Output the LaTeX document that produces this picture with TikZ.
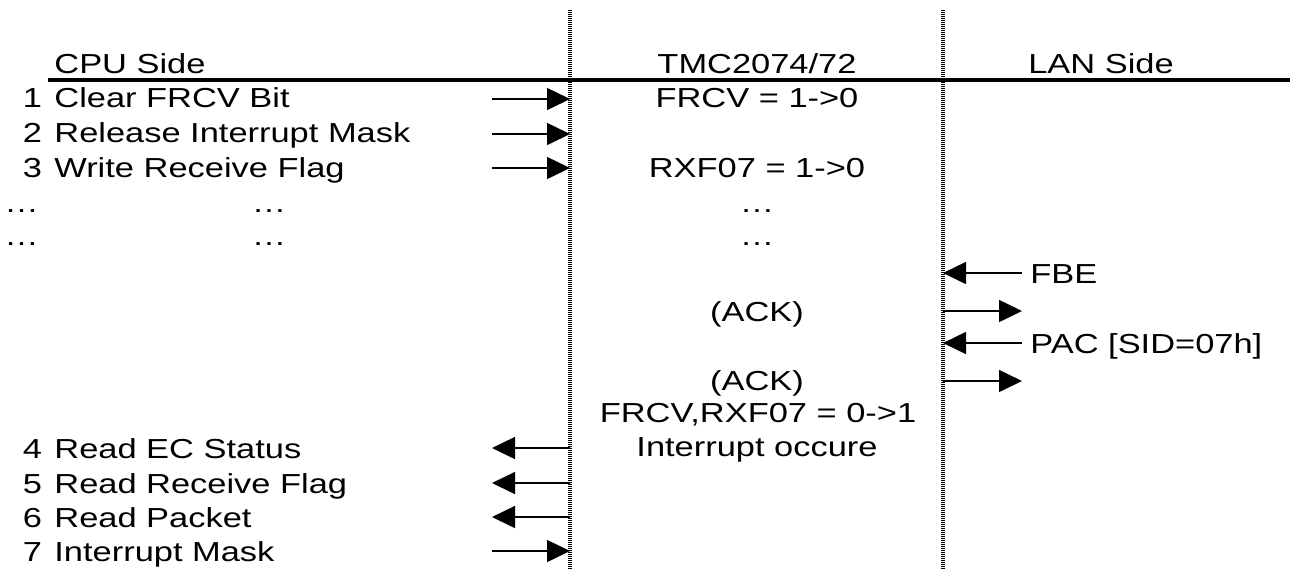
\documentclass[tikz,border=0pt]{standalone}
\usepackage{fontspec}
\setmainfont{Liberation Sans}[FakeStretch=1.252]
\usetikzlibrary{arrows.meta}
\begin{document}
\begin{tikzpicture}[x=0.5pt,y=-0.5pt,
  txt/.style={inner sep=0pt,font=\fontsize{13.75}{16}\selectfont},
  lt/.style={txt,anchor=base west},
  ct/.style={txt,anchor=base},
  life/.style={line width=2pt,dash pattern=on 0.5pt off 0.5pt},
  rule/.style={line width=1.7pt},
  msg/.style={line width=0.75pt,-{Triangle[length=11.5pt,width=11pt]}}]
\useasboundingbox (0,0) rectangle (1295,570);
% lifelines
\coordinate (cpuTop) at (570,10);
\coordinate (cpuBot) at (570,570);
\coordinate (lanTop) at (943,10);
\coordinate (lanBot) at (943,570);
\draw[life] (cpuTop) -- (cpuBot);
\draw[life] (lanTop) -- (lanBot);
% header rule
\coordinate (ruleL) at (48,80);
\coordinate (ruleR) at (1290,80);
\draw[rule] (ruleL) -- (ruleR);
% headers
\node[lt] (hcpu) at (54,73) {CPU Side};
\node[ct] (htmc) at (757,73) {TMC2074/72};
\node[ct] (hlan) at (1101,73) {LAN Side};
% CPU side steps: numbers and texts
\foreach \k/\y in {1/107,2/142,3/177,4/458,5/493,6/527,7/561}{
  \node[lt] (num\k) at (22.5,\y) {\k};
}
\node[lt] (n1) at (54,107) {Clear FRCV Bit};
\node[lt] (n2) at (54,142) {Release Interrupt Mask};
\node[lt] (n3) at (54,177) {Write Receive Flag};
\node[lt] (d1a) at (4,212) {\dots};
\node[ct] (d1b) at (269,212) {\dots};
\node[ct] (d1c) at (757,212) {\dots};
\node[lt] (d2a) at (4,245) {\dots};
\node[ct] (d2b) at (269,245) {\dots};
\node[ct] (d2c) at (757,245) {\dots};
\node[lt] (n4) at (54,458) {Read EC Status};
\node[lt] (n5) at (54,493) {Read Receive Flag};
\node[lt] (n6) at (54,527) {Read Packet};
\node[lt] (n7) at (54,561) {Interrupt Mask};
% TMC column
\node[ct] (t1) at (757,107) {FRCV = 1->0};
\node[ct] (t3) at (757,177) {RXF07 = 1->0};
\node[ct] (ack1) at (757,321) {(ACK)};
\node[ct] (ack2) at (757,390) {(ACK)};
\node[ct] (t10) at (758,422) {FRCV,RXF07 = 0->1};
\node[ct] (t11) at (757,456) {Interrupt occure};
% LAN column
\node[lt] (fbe) at (1030,283) {FBE};
\node[lt] (pac) at (1030,353) {PAC [SID=07h]};
% arrow end points
\foreach \n/\y in {1/99,2/134,3/168,4/448,5/483,6/517,7/551}{
  \coordinate (ca\n) at (492,\y);
  \coordinate (cb\n) at (570,\y);
}
\foreach \n/\y in {1/273,2/311,3/343,4/381}{
  \coordinate (la\n) at (943,\y);
  \coordinate (lb\n) at (1022,\y);
}
\draw[msg] (ca1) -- (cb1);
\draw[msg] (ca2) -- (cb2);
\draw[msg] (ca3) -- (cb3);
\draw[msg] (cb4) -- (ca4);
\draw[msg] (cb5) -- (ca5);
\draw[msg] (cb6) -- (ca6);
\draw[msg] (ca7) -- (cb7);
\draw[msg] (lb1) -- (la1);
\draw[msg] (la2) -- (lb2);
\draw[msg] (lb3) -- (la3);
\draw[msg] (la4) -- (lb4);
\end{tikzpicture}
\end{document}
